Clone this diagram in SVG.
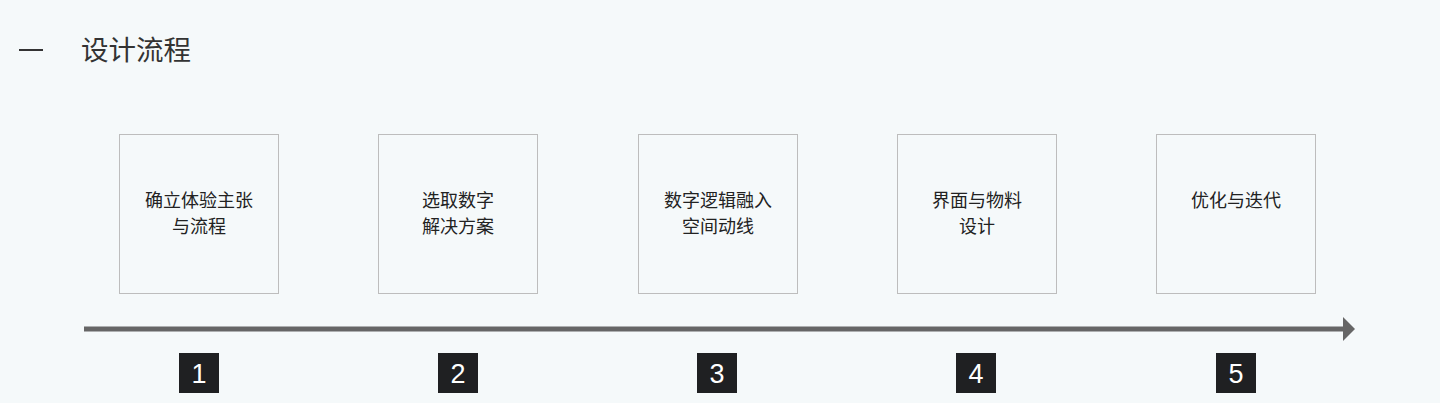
<svg xmlns="http://www.w3.org/2000/svg" width="1440" height="403" viewBox="0 0 1440 403">
<style>
.box{fill:none;stroke:#bdbdbd;stroke-width:1}
.lbl{font-family:"Noto Sans CJK SC","Noto Sans",sans-serif;font-size:18px;fill:#222;text-anchor:middle}
.nb{fill:#1f2022}
.num{font-family:"Liberation Sans",Arial,sans-serif;font-size:27px;fill:#fff;text-anchor:middle}
</style>
<rect width="1440" height="403" fill="#f5f9fa"/>
<g id="header">
<line x1="19" y1="50" x2="43" y2="50" stroke="#333" stroke-width="2"/>
<text x="81" y="60" style="font-family:'Noto Sans CJK SC',sans-serif;font-size:27.5px;fill:#333">设计流程</text>
</g>
<g id="node1"><rect class="box" x="119.5" y="134.5" width="159" height="159"/><text class="lbl" x="199" y="207">确立体验主张</text><text class="lbl" x="199" y="233">与流程</text></g>
<g id="node2"><rect class="box" x="378.5" y="134.5" width="159" height="159"/><text class="lbl" x="458" y="207">选取数字</text><text class="lbl" x="458" y="233">解决方案</text></g>
<g id="node3"><rect class="box" x="638.5" y="134.5" width="159" height="159"/><text class="lbl" x="718" y="207">数字逻辑融入</text><text class="lbl" x="718" y="233">空间动线</text></g>
<g id="node4"><rect class="box" x="897.5" y="134.5" width="159" height="159"/><text class="lbl" x="977" y="207">界面与物料</text><text class="lbl" x="977" y="233">设计</text></g>
<g id="node5"><rect class="box" x="1156.5" y="134.5" width="159" height="159"/><text class="lbl" x="1236" y="207">优化与迭代</text></g>
<g id="connectors">
<line x1="84" y1="329" x2="1344" y2="329" stroke="#666" stroke-width="5"/>
<polygon points="1343,317 1355,329 1343,341" fill="#666"/>
</g>
<g id="steps">
<rect class="nb" x="179" y="353" width="40" height="40"/><text class="num" x="199" y="383">1</text>
<rect class="nb" x="438" y="353" width="40" height="40"/><text class="num" x="458" y="383">2</text>
<rect class="nb" x="697" y="353" width="40" height="40"/><text class="num" x="717" y="383">3</text>
<rect class="nb" x="956" y="353" width="40" height="40"/><text class="num" x="976" y="383">4</text>
<rect class="nb" x="1216" y="353" width="40" height="40"/><text class="num" x="1236" y="383">5</text>
</g>
</svg>
